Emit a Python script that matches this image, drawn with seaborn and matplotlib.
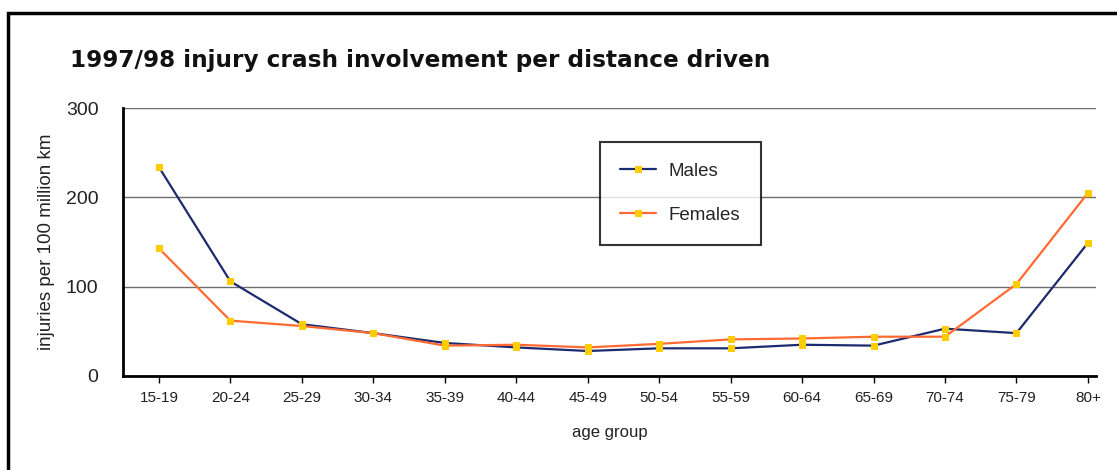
import pandas as pd
import matplotlib
matplotlib.use("Agg")
import matplotlib.pyplot as plt
import seaborn as sns
from matplotlib.patches import Rectangle

age_groups = ["15-19", "20-24", "25-29", "30-34", "35-39", "40-44", "45-49",
              "50-54", "55-59", "60-64", "65-69", "70-74", "75-79", "80+"]
males = [234, 106, 58, 48, 37, 32, 28, 31, 31, 35, 34, 53, 48, 149]
females = [143, 62, 56, 48, 34, 35, 32, 36, 41, 42, 44, 44, 103, 205]
series_names = ["Males", "Females"]
line_colors = ["#1c2a6e", "#ff6a33"]
marker_color = "#ffcc00"

df = pd.DataFrame({
    "age group": age_groups * 2,
    "value": males + females,
    "sex": [series_names[0]] * len(age_groups) + [series_names[1]] * len(age_groups),
})
df["pos"] = list(range(len(age_groups))) * 2

sns.set_style("white")
plt.rcParams["font.family"] = ["Liberation Sans", "DejaVu Sans"]

fig = plt.figure(figsize=(11.17, 4.70), dpi=100)
ax = fig.add_axes([0.110, 0.200, 0.871, 0.570])

sns.lineplot(data=df, x="pos", y="value", hue="sex", palette=line_colors,
             marker="s", markersize=5, markerfacecolor=marker_color,
             markeredgecolor=marker_color, linewidth=1.6, ax=ax)

ax.set_xlim(-0.504, 13.11)
ax.set_ylim(0, 300)
ax.set_xticks(range(len(age_groups)))
ax.set_xticklabels(age_groups)
ax.set_yticks([0, 100, 200, 300])
ax.yaxis.grid(True, color="#6e6e6e", linewidth=1)
ax.xaxis.grid(False)
ax.set_axisbelow(True)

for s in ["top", "right"]:
    ax.spines[s].set_visible(False)
for s in ["left", "bottom"]:
    ax.spines[s].set_color("black")
    ax.spines[s].set_linewidth(2)

ax.tick_params(axis="x", bottom=True, length=5, width=1, colors="black",
               labelsize=11, pad=6, labelcolor="#222222")
ax.tick_params(axis="y", left=False, labelsize=14, pad=14, labelcolor="#222222")

ax.set_xlabel("age group", fontsize=12, labelpad=14, color="#222222")
ax.set_ylabel("injuries per 100 million km", fontsize=13.5, labelpad=8, color="#222222")

leg = ax.legend(title=None, loc="upper left", bbox_to_anchor=(0.49, 0.874),
                fancybox=False, frameon=True, fontsize=13.5, borderpad=1.1,
                labelspacing=1.45, handlelength=1.9, handletextpad=0.7,
                borderaxespad=0)
leg.get_frame().set_edgecolor("black")
leg.get_frame().set_linewidth(1.5)

fig.text(70 / 1117, 1 - 60 / 470, "1997/98 injury crash involvement per distance driven",
         fontsize=16.7, fontweight="bold", va="center", ha="left", color="#111111",
         family="DejaVu Sans")

border = Rectangle((8 / 1117, -0.05), 1.2, 1 - 13 / 470 + 0.05,
                   transform=fig.transFigure, fill=False, edgecolor="black",
                   linewidth=2.5, clip_on=False)
fig.patches.append(border)

fig.savefig("out.png", dpi=100)
